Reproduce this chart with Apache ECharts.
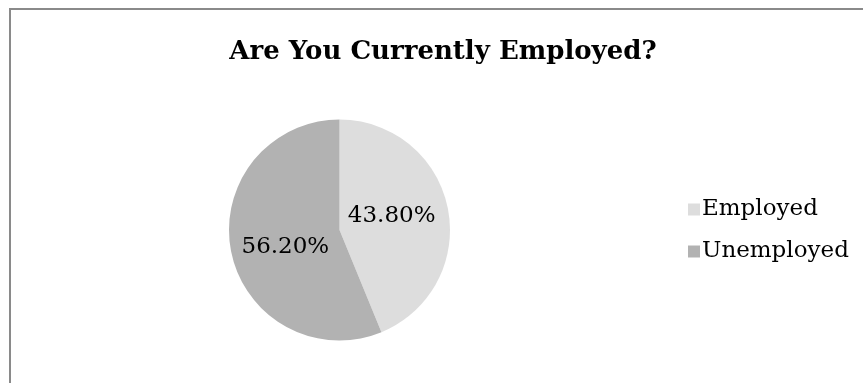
<!DOCTYPE html>
<html>
<head>
<meta charset="utf-8">
<script src="https://cdn.jsdelivr.net/npm/echarts@6/dist/echarts.min.js"></script>
<style>
  html, body { margin: 0; padding: 0; background: #ffffff; }
  #chart { width: 863px; height: 383px; }
</style>
</head>
<body>
<div id="chart"></div>
<script>
// Survey answers: share of respondents (percent)
const categories = ['Employed', 'Unemployed'];
const shares = [43.80, 56.20];
const sliceColors = ['#dddddd', '#b2b2b2'];

// small nudges so the in-slice labels sit where the text reads best
const labelOffsets = [[-5, -3], [3, 6]];

const serif = '"DejaVu Serif", "Liberation Serif", serif';

const chart = echarts.init(document.getElementById('chart'), null, { renderer: 'canvas' });

chart.setOption({
  animation: false,
  backgroundColor: '#ffffff',
  title: {
    text: 'Are You Currently Employed?',
    left: 438,
    textAlign: 'center',
    top: 34,
    textStyle: {
      fontFamily: serif,
      fontWeight: 'bold',
      fontSize: 26,
      color: '#000000'
    }
  },
  legend: {
    orient: 'vertical',
    left: 683,
    top: 193,
    itemWidth: 12,
    itemHeight: 12,
    itemGap: 19,
    icon: 'rect',
    data: categories,
    textStyle: {
      fontFamily: serif,
      fontSize: 23,
      color: '#000000',
      padding: [0, 0, 0, -3]
    }
  },
  graphic: [{
    type: 'rect',
    silent: true,
    shape: { x: 10, y: 9, width: 900, height: 420 },
    style: { fill: 'none', stroke: '#8a8a8a', lineWidth: 2 }
  }],
  series: [{
    type: 'pie',
    center: [339.5, 230],
    radius: 110.5,
    startAngle: 90,
    clockwise: true,
    color: sliceColors,
    itemStyle: { borderWidth: 0 },
    emphasis: { disabled: true },
    labelLine: { show: false },
    label: {
      show: true,
      position: 'inside',
      fontFamily: serif,
      fontSize: 23,
      color: '#000000',
      formatter: p => p.value.toFixed(2) + '%'
    },
    data: categories.map((name, i) => ({
      name,
      value: shares[i],
      label: { offset: labelOffsets[i] }
    }))
  }]
});
</script>
</body>
</html>
